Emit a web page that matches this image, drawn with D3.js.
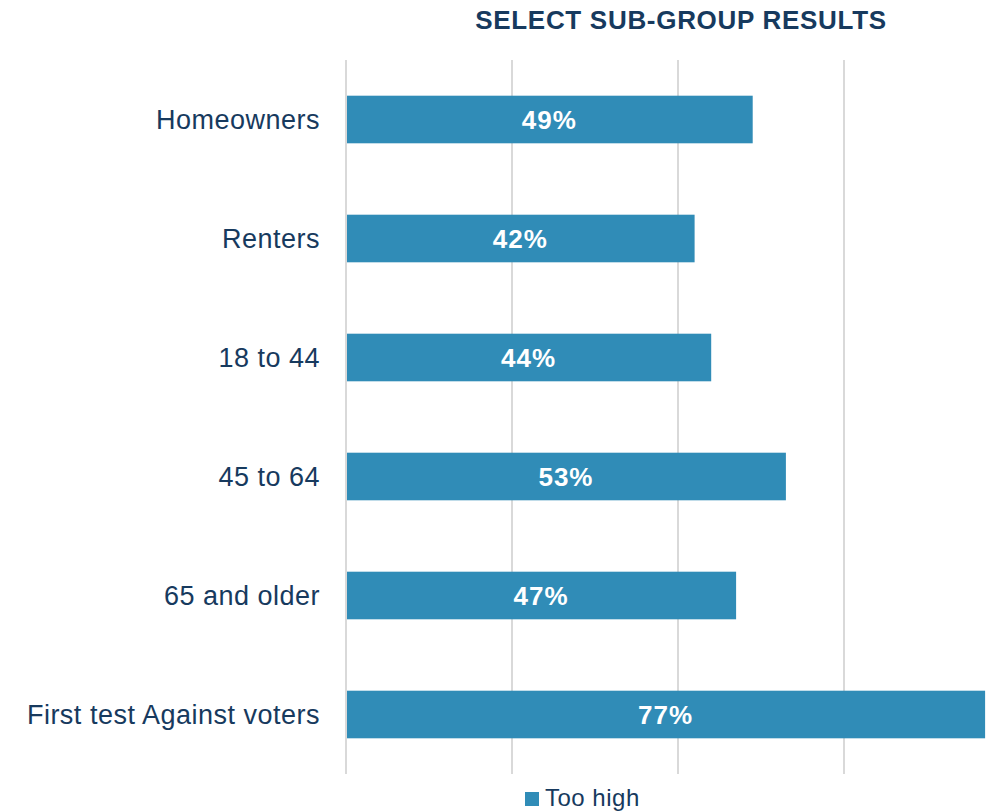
<!DOCTYPE html>
<html><head><meta charset="utf-8">
<script src="https://cdn.jsdelivr.net/npm/d3@7"></script>
<style>body{margin:0;background:#fff}svg{display:block}</style>
</head><body>
<svg id="chart" width="999" height="811"></svg>
<script>
const categories = ["Homeowners","Renters","18 to 44","45 to 64","65 and older","First test Against voters"];
const tooHigh = [49,42,44,53,47,77];
const gridTicks = [0,20,40,60,80];
const title = "SELECT SUB-GROUP RESULTS";
const seriesName = "Too high";

const svg = d3.select("#chart");
const font = "'Liberation Sans', Arial, sans-serif";
const navy = "#173a5e", barColor = "#308cb7";
const plotLeft = 346, plotTop = 60, plotH = 714;
const x = d3.scaleLinear().domain([0,80]).range([plotLeft, plotLeft + 664]);
const y = d3.scaleBand().domain(categories).range([plotTop, plotTop + plotH]).paddingInner(0.6).paddingOuter(0.3);

svg.append("g").selectAll("line").data(gridTicks).join("line")
  .attr("x1", d => x(d)).attr("x2", d => x(d))
  .attr("y1", plotTop).attr("y2", plotTop + plotH)
  .attr("stroke", "#d9d9d9").attr("stroke-width", 2);

svg.append("g").selectAll("rect").data(categories).join("rect")
  .attr("x", x(0) + 1).attr("y", d => y(d))
  .attr("width", (d,i) => x(tooHigh[i]) - x(0) - 1)
  .attr("height", y.bandwidth()).attr("fill", barColor);

svg.append("g").selectAll("text").data(categories).join("text")
  .attr("x", (d,i) => (x(0) + x(tooHigh[i])) / 2)
  .attr("y", d => y(d) + y.bandwidth()/2).attr("dy", "0.36em")
  .attr("text-anchor", "middle").attr("fill", "#fff")
  .attr("font-family", font).attr("font-weight", "bold").attr("font-size", 26)
  .attr("letter-spacing", 1)
  .text((d,i) => tooHigh[i] + "%");

svg.append("g").selectAll("text").data(categories).join("text")
  .attr("x", 320).attr("y", d => y(d) + y.bandwidth()/2).attr("dy", "0.36em")
  .attr("text-anchor", "end").attr("fill", navy)
  .attr("font-family", font).attr("font-size", 27).attr("letter-spacing", 0.5)
  .text(d => d);

svg.append("text").attr("x", 681).attr("y", 29).attr("text-anchor", "middle")
  .attr("fill", navy).attr("font-family", font).attr("font-weight", "bold").attr("font-size", 26)
  .attr("letter-spacing", 0.7)
  .text(title);

const lg = svg.append("g");
lg.append("rect").attr("x", 525).attr("y", 792).attr("width", 14).attr("height", 14).attr("fill", barColor);
lg.append("text").attr("x", 545).attr("y", 806).attr("fill", navy)
  .attr("font-family", font).attr("font-size", 24).attr("letter-spacing", 0.5).text(seriesName);
</script>
</body></html>
